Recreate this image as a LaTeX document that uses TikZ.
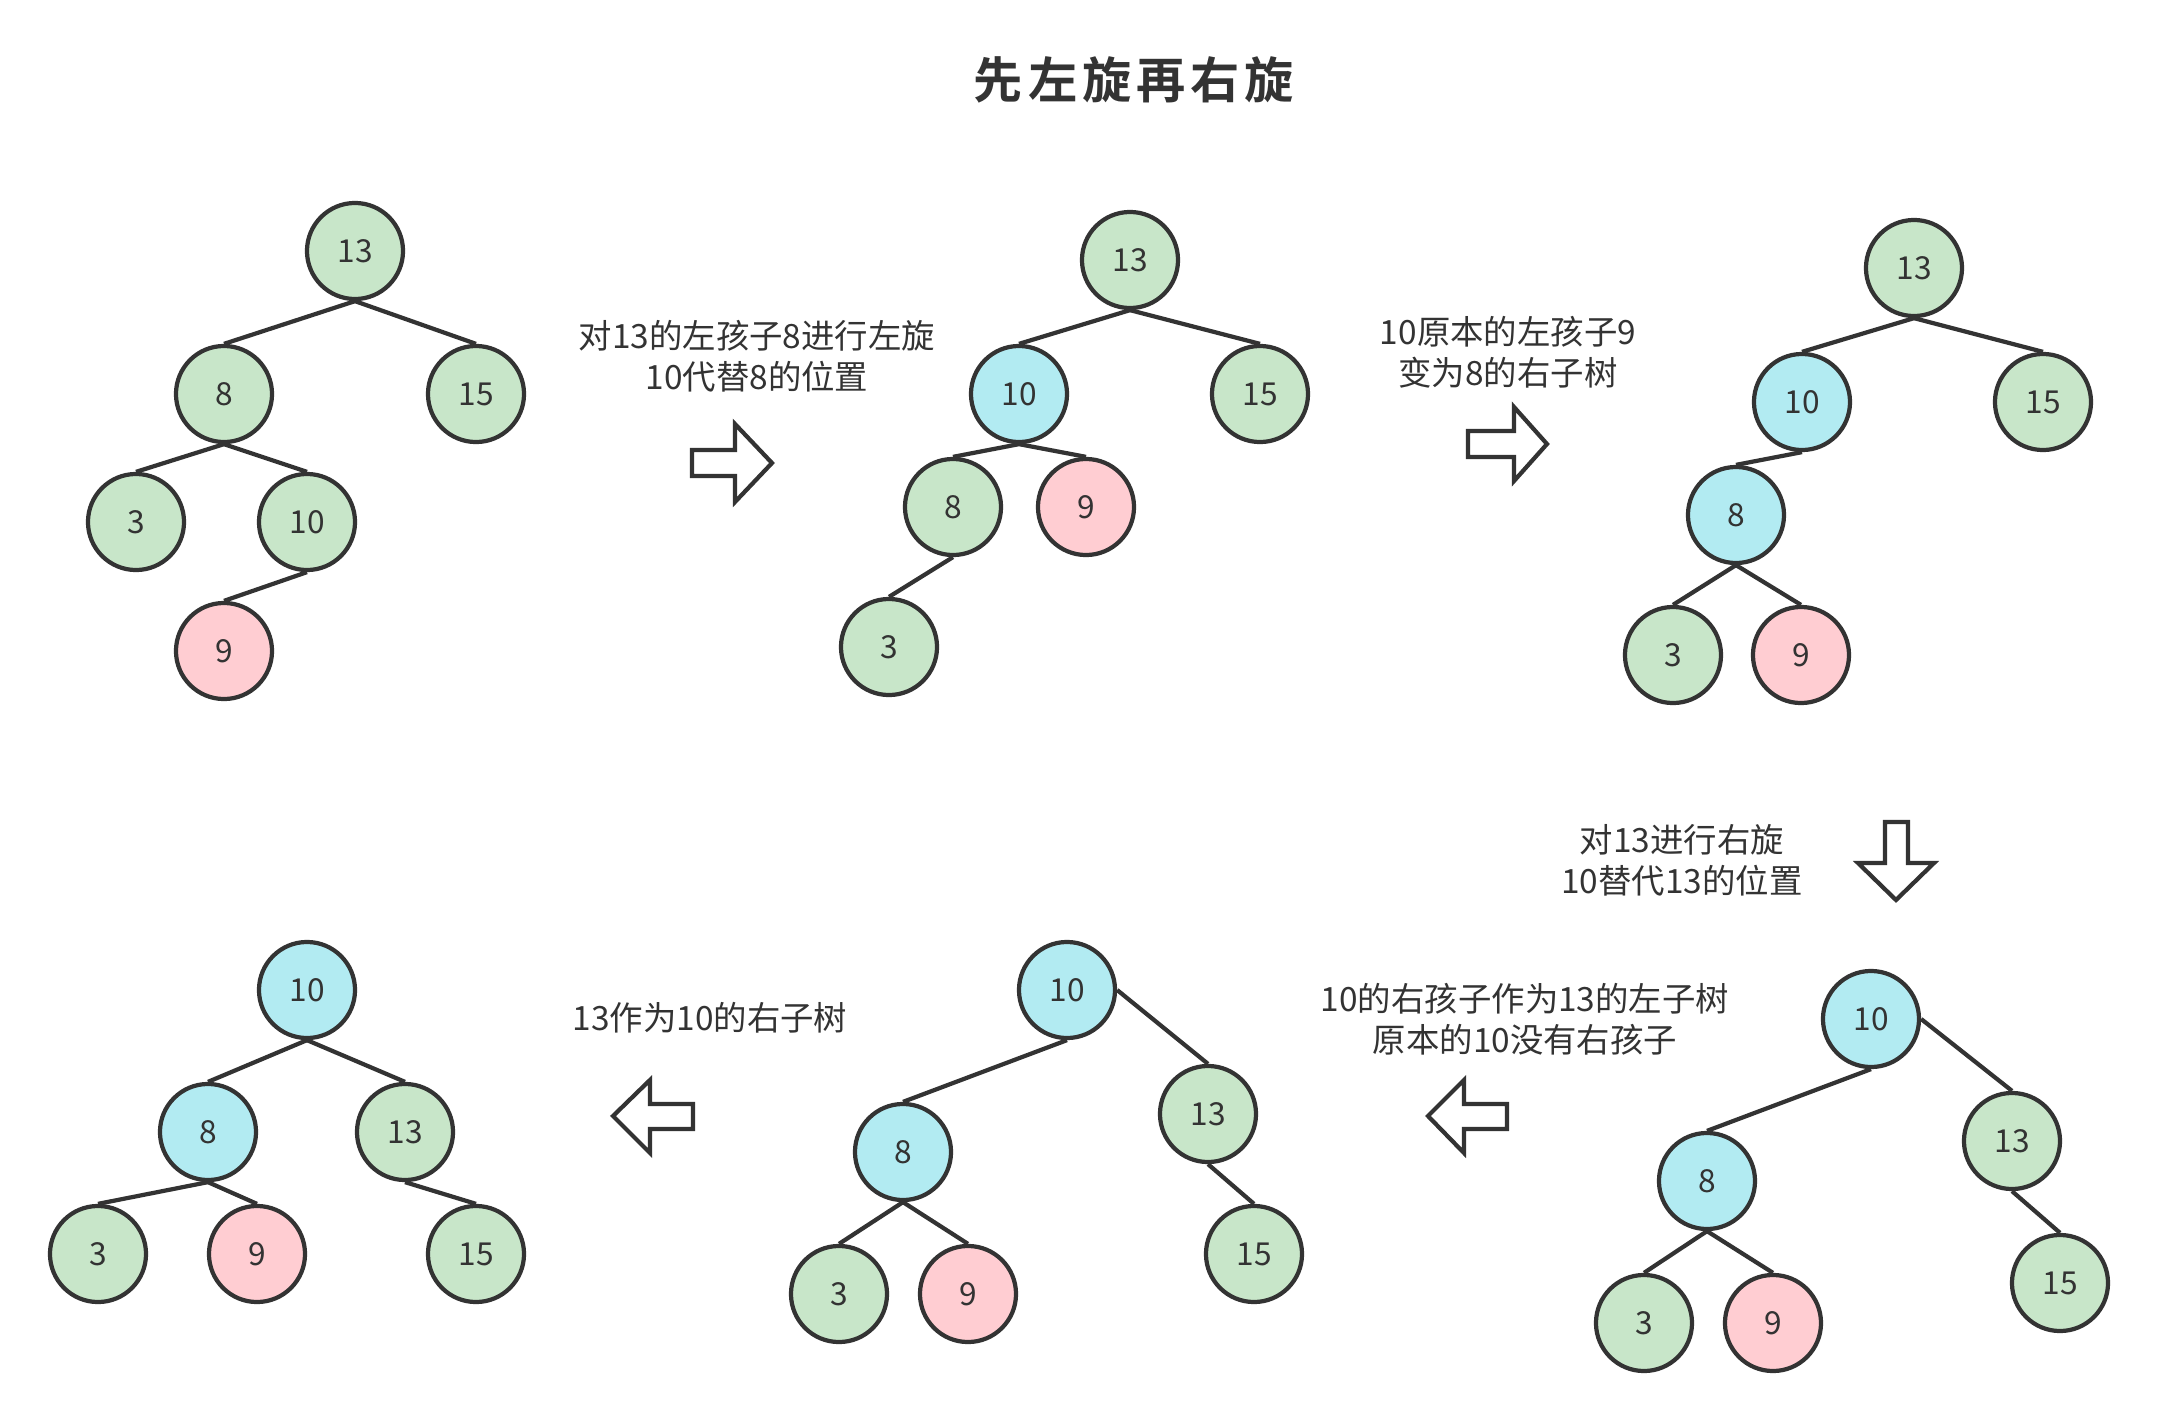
\documentclass[tikz,border=0pt]{standalone}
\usepackage{fontspec}
\setmainfont{Noto Sans CJK SC}
\newfontfamily\cjkbold[LetterSpace=10]{Noto Sans CJK SC Bold}
\definecolor{ink}{HTML}{333333}
\definecolor{gfill}{HTML}{C8E6C9}
\definecolor{bfill}{HTML}{B2EBF2}
\definecolor{pfill}{HTML}{FFCDD2}
\tikzset{
  nd/.style={circle,draw=ink,line width=1.2pt,minimum size=0.96cm,inner sep=0pt,text=ink,font=\fontsize{9}{10}\selectfont},
  gn/.style={nd,fill=gfill},
  bn/.style={nd,fill=bfill},
  pn/.style={nd,fill=pfill},
  edge/.style={draw=ink,line width=1.2pt},
  blockarrow/.style={draw=ink,line width=1.2pt,fill=white,line join=miter},
  lbl/.style={text=ink,align=center,font=\fontsize{9.5}{11.7}\selectfont},
}
\begin{document}
\begin{tikzpicture}[x=0.01cm,y=-0.01cm]
\useasboundingbox (0,0) rectangle (2159,1421);
\node[text=ink,font=\cjkbold\fontsize{14}{16}\selectfont] (title) at (1134,80) {先左旋再右旋};

% Tree 1
\node[gn] (a13) at (355,251) {13};
\node[gn] (a8) at (224,394) {8};
\node[gn] (a15) at (476,394) {15};
\node[gn] (a3) at (136,522) {3};
\node[gn] (a10) at (307,522) {10};
\node[pn] (a9) at (224,651) {9};
\draw[edge] (a13.south) -- (a8.north);
\draw[edge] (a13.south) -- (a15.north);
\draw[edge] (a8.south) -- (a3.north);
\draw[edge] (a8.south) -- (a10.north);
\draw[edge] (a10.south) -- (a9.north);

\node[lbl] (l1) at (757,356) {对13的左孩子8进行左旋\\10代替8的位置};
\draw[blockarrow] (692,450) -- (735,450) -- (735,424) -- (772,463) -- (735,502) -- (735,476) -- (692,476) -- cycle;

% Tree 2
\node[gn] (b13) at (1130,260) {13};
\node[bn] (b10) at (1019,394) {10};
\node[gn] (b15) at (1260,394) {15};
\node[gn] (b8) at (953,507) {8};
\node[pn] (b9) at (1086,507) {9};
\node[gn] (b3) at (889,647) {3};
\draw[edge] (b13.south) -- (b10.north);
\draw[edge] (b13.south) -- (b15.north);
\draw[edge] (b10.south) -- (b8.north);
\draw[edge] (b10.south) -- (b9.north);
\draw[edge] (b8.south) -- (b3.north);

\node[lbl] (l2) at (1508,352) {10原本的左孩子9\\变为8的右子树};
\draw[blockarrow] (1468,431) -- (1514,431) -- (1514,407) -- (1547,444) -- (1514,481) -- (1514,457) -- (1468,457) -- cycle;

% Tree 3
\node[gn] (c13) at (1914,268) {13};
\node[bn] (c10) at (1802,402) {10};
\node[gn] (c15) at (2043,402) {15};
\node[bn] (c8) at (1736,515) {8};
\node[gn] (c3) at (1673,655) {3};
\node[pn] (c9) at (1801,655) {9};
\draw[edge] (c13.south) -- (c10.north);
\draw[edge] (c13.south) -- (c15.north);
\draw[edge] (c10.south) -- (c8.north);
\draw[edge] (c8.south) -- (c3.north);
\draw[edge] (c8.south) -- (c9.north);

\node[lbl] (l3) at (1682,860) {对13进行右旋\\10替代13的位置};
\draw[blockarrow] (1885,822) -- (1908,822) -- (1908,863) -- (1934,863) -- (1896,900) -- (1858,863) -- (1885,863) -- cycle;

% Tree 4
\node[bn] (d10) at (1871,1019) {10};
\node[bn] (d8) at (1707,1181) {8};
\node[gn] (d13) at (2012,1141) {13};
\node[gn] (d3) at (1644,1323) {3};
\node[pn] (d9) at (1773,1323) {9};
\node[gn] (d15) at (2060,1283) {15};
\draw[edge] (d10.south) -- (d8.north);
\draw[edge] (d10.east) -- (d13.north);
\draw[edge] (d8.south) -- (d3.north);
\draw[edge] (d8.south) -- (d9.north);
\draw[edge] (d13.south) -- (d15.north);

\node[lbl] (l4) at (1525,1019) {10的右孩子作为13的左子树\\原本的10没有右孩子};
\draw[blockarrow] (1507,1104) -- (1464,1104) -- (1464,1080) -- (1428,1116) -- (1464,1153) -- (1464,1129) -- (1507,1129) -- cycle;

% Tree 5
\node[bn] (e10) at (1067,990) {10};
\node[bn] (e8) at (903,1152) {8};
\node[gn] (e13) at (1208,1114) {13};
\node[gn] (e3) at (839,1294) {3};
\node[pn] (e9) at (968,1294) {9};
\node[gn] (e15) at (1254,1254) {15};
\draw[edge] (e10.south) -- (e8.north);
\draw[edge] (e10.east) -- (e13.north);
\draw[edge] (e8.south) -- (e3.north);
\draw[edge] (e8.south) -- (e9.north);
\draw[edge] (e13.south) -- (e15.north);

\node[lbl] (l5) at (710,1018) {13作为10的右子树};
\draw[blockarrow] (693,1104) -- (650,1104) -- (650,1080) -- (613,1116) -- (650,1153) -- (650,1129) -- (693,1129) -- cycle;

% Tree 6
\node[bn] (f10) at (307,990) {10};
\node[bn] (f8) at (208,1132) {8};
\node[gn] (f13) at (405,1132) {13};
\node[gn] (f3) at (98,1254) {3};
\node[pn] (f9) at (257,1254) {9};
\node[gn] (f15) at (476,1254) {15};
\draw[edge] (f10.south) -- (f8.north);
\draw[edge] (f10.south) -- (f13.north);
\draw[edge] (f8.south) -- (f3.north);
\draw[edge] (f8.south) -- (f9.north);
\draw[edge] (f13.south) -- (f15.north);
\end{tikzpicture}
\end{document}
